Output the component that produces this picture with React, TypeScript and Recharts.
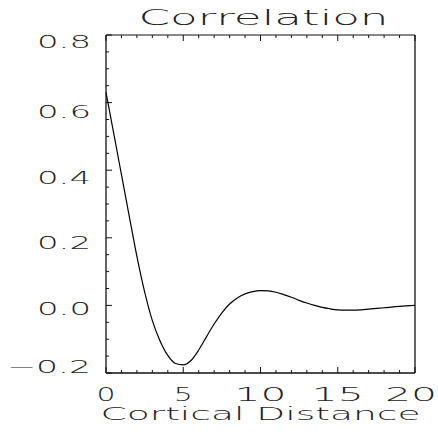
import React from 'react';
import { LineChart, Line, XAxis, YAxis } from 'recharts';

const distance = [0, 0.5, 1, 1.5, 2, 2.5, 3, 3.5, 4, 4.5, 5, 5.5, 6, 6.5, 7, 7.5, 8, 8.5, 9, 9.5, 10, 10.5, 11, 11.5, 12, 12.5, 13, 13.5, 14, 14.5, 15, 15.5, 16, 16.5, 17, 18, 19, 20];
const correlation = [0.63, 0.509, 0.387, 0.265, 0.145, 0.04, -0.045, -0.105, -0.148, -0.172, -0.176, -0.163, -0.132, -0.093, -0.055, -0.022, 0.004, 0.022, 0.034, 0.041, 0.044, 0.043, 0.039, 0.032, 0.024, 0.015, 0.007, 0.0, -0.006, -0.01, -0.013, -0.014, -0.014, -0.013, -0.011, -0.007, -0.003, 0.0];

const xTicks = [0, 1, 2, 3, 4, 5, 6, 7, 8, 9, 10, 11, 12, 13, 14, 15, 16, 17, 18, 19, 20];
const xMajor = [0, 5, 10, 15, 20];
const xLabels = ['0', '5', '10', '15', '20'];
const yTicks = [-0.2, -0.15, -0.1, -0.05, 0, 0.05, 0.1, 0.15, 0.2, 0.25, 0.3, 0.35, 0.4, 0.45, 0.5, 0.55, 0.6, 0.65, 0.7, 0.75, 0.8];
const yMajor = [-0.2, 0, 0.2, 0.4, 0.6, 0.8];
const yLabels = ['\u22120.2', '0.0', '0.2', '0.4', '0.6', '0.8'];

const title = 'Correlation';
const xTitle = 'Cortical Distance';

const data = distance.map((d, i) => ({ d, c: correlation[i] }));

const FONT = "'DejaVu Sans', 'Noto Sans', sans-serif";
const INK = '#111';
const TXT = '#222';

const near = (a: number, b: number) => Math.abs(a - b) < 1e-6;
const majorIndex = (list: number[], v: number) => list.findIndex((m) => near(m, v));

const BottomTick = (props: any) => {
  const { x, y, payload } = props;
  const mi = majorIndex(xMajor, payload.value);
  const len = mi >= 0 ? 6 : 3;
  const label = mi >= 0 ? xLabels[mi] : null;
  const w = label ? (label.length === 1 ? 19 : 52) : 0;
  let cx = x;
  if (label && cx + w / 2 > 437) cx = 437 - w / 2;
  return (
    <g>
      <line x1={x} x2={x} y1={y} y2={y - len} stroke={INK} strokeWidth={1} />
      {label && (
        <text
          x={cx}
          y={y + 28}
          textAnchor="middle"
          fontFamily={FONT}
          fontWeight={200}
          fontSize={19.5}
          fill={TXT}
          textLength={w}
          lengthAdjust="spacingAndGlyphs"
        >
          {label}
        </text>
      )}
    </g>
  );
};

const TopTick = (props: any) => {
  const { x, y, payload } = props;
  const mi = majorIndex(xMajor, payload.value);
  const len = mi >= 0 ? 6 : 3;
  return <line x1={x} x2={x} y1={y} y2={y + len} stroke={INK} strokeWidth={1} />;
};

const LeftTick = (props: any) => {
  const { x, y, payload } = props;
  const mi = majorIndex(yMajor, payload.value);
  const len = mi >= 0 ? 6 : 3;
  const label = mi >= 0 ? yLabels[mi] : null;
  const w = label ? (label.length > 3 ? 84 : 54) : 0;
  const v = payload.value;
  const by = near(v, 0.8) ? y + 13 : near(v, -0.2) ? y : y + 9.6 + v * 10;
  return (
    <g>
      <line x1={x} x2={x + len} y1={y} y2={y} stroke={INK} strokeWidth={1} />
      {label && (
        <text
          x={x - 15}
          y={by}
          textAnchor="end"
          fontFamily={FONT}
          fontWeight={200}
          fontSize={17.5}
          fill={TXT}
          textLength={w}
          lengthAdjust="spacingAndGlyphs"
        >
          {label}
        </text>
      )}
    </g>
  );
};

const RightTick = (props: any) => {
  const { x, y, payload } = props;
  const mi = majorIndex(yMajor, payload.value);
  const len = mi >= 0 ? 6 : 3;
  return <line x1={x} x2={x - len} y1={y} y2={y} stroke={INK} strokeWidth={1} />;
};

const TitleLabel = (props: any) => {
  const vb = props.viewBox || { x: 106, y: 35, width: 309 };
  return (
    <text
      x={vb.x + vb.width / 2 + 3}
      y={25}
      textAnchor="middle"
      fontFamily={FONT}
      fontWeight={200}
      fontSize={20.5}
      fill={TXT}
      textLength={250}
      lengthAdjust="spacingAndGlyphs"
    >
      {title}
    </text>
  );
};

const XTitleLabel = (props: any) => {
  const vb = props.viewBox || { x: 106, y: 373, width: 309 };
  return (
    <text
      x={vb.x + vb.width / 2}
      y={420}
      textAnchor="middle"
      fontFamily={FONT}
      fontWeight={200}
      fontSize={17.5}
      fill={TXT}
      textLength={320}
      lengthAdjust="spacingAndGlyphs"
    >
      {xTitle}
    </text>
  );
};

export default function App() {
  return (
    <div style={{ position: 'absolute', left: 0, top: 0, background: '#fff' }}>
      <LineChart width={438} height={434} data={data} margin={{ top: 34, right: 0, bottom: 0, left: 0 }}>
        <XAxis
          xAxisId="bottom"
          dataKey="d"
          type="number"
          domain={[0, 20]}
          ticks={xTicks}
          interval={0}
          orientation="bottom"
          height={61}
          tickSize={0}
          tickMargin={0}
          axisLine={{ stroke: INK, strokeWidth: 1.3 }}
          tick={<BottomTick />}
          label={<XTitleLabel />}
        />
        <XAxis
          xAxisId="top"
          dataKey="d"
          type="number"
          domain={[0, 20]}
          ticks={xTicks}
          interval={0}
          orientation="top"
          height={1}
          tickSize={0}
          tickMargin={0}
          axisLine={{ stroke: INK, strokeWidth: 1 }}
          tick={<TopTick />}
          label={<TitleLabel />}
        />
        <YAxis
          yAxisId="left"
          type="number"
          domain={[-0.2, 0.8]}
          ticks={yTicks}
          interval={0}
          orientation="left"
          width={106}
          tickSize={0}
          tickMargin={0}
          axisLine={{ stroke: INK, strokeWidth: 1.3 }}
          tick={<LeftTick />}
        />
        <YAxis
          yAxisId="right"
          type="number"
          domain={[-0.2, 0.8]}
          ticks={yTicks}
          interval={0}
          orientation="right"
          width={23}
          tickSize={0}
          tickMargin={0}
          axisLine={{ stroke: INK, strokeWidth: 1.3 }}
          tick={<RightTick />}
        />
        <Line
          xAxisId="bottom"
          yAxisId="left"
          dataKey="c"
          type="monotone"
          stroke="#000"
          strokeWidth={1.2}
          dot={false}
          isAnimationActive={false}
        />
      </LineChart>
    </div>
  );
}
